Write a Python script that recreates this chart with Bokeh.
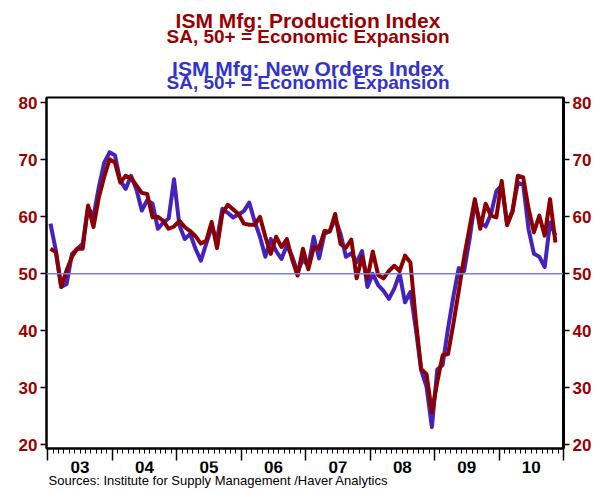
from bokeh.plotting import figure
from bokeh.layouts import column
from bokeh.models import Range1d, LinearAxis, FixedTicker, Span, ColumnDataSource
from bokeh.core.properties import value
from bokeh.embed import file_html
from bokeh.resources import INLINE

# ---------------- data (monthly, Jan 2003 - Nov 2010) ----------------
start_year = 2003
new_orders = [
    58.8, 54.1, 47.7, 48.2, 53.5, 54.4, 55.3, 61.7, 60.0, 65.2, 69.5, 71.3,   # 2003
    70.8, 66.3, 64.9, 67.2, 64.8, 61.1, 62.9, 62.3, 57.9, 59.0, 59.7, 66.6,   # 2004
    58.5, 56.1, 57.0, 54.4, 52.3, 55.3, 58.2, 56.0, 61.4, 60.7, 59.9, 60.4,   # 2005
    61.0, 62.5, 59.2, 56.5, 53.0, 56.1, 54.0, 52.6, 55.0, 53.0, 50.3, 52.6,   # 2006
    51.3, 56.5, 52.7, 57.0, 57.5, 59.7, 57.0, 53.0, 53.6, 52.0, 54.0, 47.7,   # 2007
    50.0, 48.0, 47.0, 45.6, 47.4, 50.0, 45.0, 46.8, 40.4, 33.1, 30.2, 23.1,   # 2008
    33.2, 34.0, 40.4, 46.0, 51.0, 50.5, 56.0, 62.5, 59.0, 58.3, 60.5, 64.5,   # 2009
    65.5, 58.8, 61.0, 66.0, 65.6, 57.8, 53.5, 53.0, 51.2, 59.0, 56.7,         # 2010
]
production = [
    54.4, 53.8, 47.7, 50.6, 53.0, 54.4, 54.4, 62.0, 58.2, 63.4, 67.0, 70.1,   # 2003
    69.5, 66.0, 67.2, 66.8, 65.5, 64.2, 64.0, 59.9, 60.0, 59.3, 57.9, 58.3,   # 2004
    59.3, 58.2, 57.5, 56.6, 55.3, 55.8, 59.1, 54.5, 60.6, 62.1, 61.3, 60.5,   # 2005
    58.8, 58.6, 58.6, 60.0, 56.5, 53.5, 56.5, 54.7, 56.1, 52.5, 49.7, 54.4,   # 2006
    50.8, 54.6, 54.5, 57.5, 57.4, 60.5, 55.2, 54.6, 56.0, 49.2, 53.0, 49.2,   # 2007
    53.9, 49.8, 49.2, 50.5, 51.4, 50.5, 53.2, 52.0, 42.0, 33.3, 32.4, 25.7,   # 2008
    31.0, 35.7, 35.9, 41.2, 47.0, 52.9, 58.0, 63.1, 57.9, 62.3, 60.2, 59.9,   # 2009
    66.3, 58.5, 60.9, 67.2, 66.9, 61.4, 57.3, 60.2, 56.7, 63.1, 55.5,         # 2010
]
years = list(range(2003, 2011))
year_labels = ["03", "04", "05", "06", "07", "08", "09", "10"]
y_ticks = [20, 30, 40, 50, 60, 70, 80]
threshold = 50

title_texts = ["ISM Mfg: Production Index", "SA, 50+ = Economic Expansion",
               "ISM Mfg: New Orders Index", "SA, 50+ = Economic Expansion"]
title_colors = ["#990000", "#990000", "#3333CC", "#3333CC"]
title_sizes = ["21px", "19px", "21px", "19px"]
source_text = "Sources:  Institute for Supply Management /Haver Analytics"

# ---------------- layout constants ----------------
W = 602
TOP_H, MAIN_H, BOT_H = 92, 369, 30
BORDER_L, BORDER_R = 46, 39
FONT = "Liberation Sans"
DARK_RED = "#990000"
title_baselines = [20, 36, 68, 82]          # page pixel rows (anchor)
year_baseline, source_baseline = 466, 480    # page pixel rows (anchor)

x_dates = [start_year + (i + 0.5) / 12 for i in range(len(new_orders))]
src = ColumnDataSource(dict(x=x_dates, no=new_orders, pr=production))

# ---------------- title strip ----------------
t = figure(width=W, height=TOP_H, output_backend="svg", toolbar_location=None, title=None,
           x_range=Range1d(0, W), y_range=Range1d(TOP_H, 0), min_border=0,
           x_axis_type=None, y_axis_type=None)
t.outline_line_color = None
t.xgrid.visible = False
t.ygrid.visible = False
tsrc = ColumnDataSource(dict(x=[(BORDER_L + W - BORDER_R) / 2] * 4, y=title_baselines,
                             text=title_texts, color=title_colors, size=title_sizes))
t.text(x="x", y="y", text="text", source=tsrc, text_color="color", text_font_size="size",
       text_font=value(FONT), text_font_style="bold", text_align="center",
       text_baseline="alphabetic")

# ---------------- main chart ----------------
p = figure(width=W, height=MAIN_H, output_backend="svg", toolbar_location=None, title=None,
           x_range=Range1d(2002.98, 2011.0), y_range=Range1d(19.35, 80.93),
           min_border_left=BORDER_L, min_border_right=BORDER_R, min_border_top=5,
           min_border_bottom=13, x_axis_type=None, y_axis_type=None)
p.outline_line_color = "black"
p.outline_line_width = 2
p.xgrid.visible = False
p.ygrid.visible = False

p.add_layout(Span(location=threshold, dimension="width", line_color="#8080D0", line_width=1.5))
p.line("x", "no", source=src, line_color="#4422BB", line_width=4, line_join="round")
p.line("x", "pr", source=src, line_color="#8B0000", line_width=4, line_join="round")

for side in ("left", "right"):
    ax = LinearAxis(ticker=FixedTicker(ticks=y_ticks))
    ax.axis_line_color = "black"
    ax.axis_line_width = 2 if side == "left" else 3
    ax.major_tick_line_color = "black"
    ax.major_tick_line_width = 1.5
    ax.major_tick_out = 6
    ax.major_tick_in = 0
    ax.minor_tick_line_color = None
    ax.major_label_text_color = DARK_RED
    ax.major_label_text_font = FONT
    ax.major_label_text_font_style = "bold"
    ax.major_label_text_font_size = "17px"
    ax.major_label_standoff = 3
    p.add_layout(ax, side)

year_edges = list(range(2003, 2012))
xa = LinearAxis(ticker=FixedTicker(ticks=year_edges,
                                   minor_ticks=[2003 + i / 12 for i in range(97)]))
xa.axis_line_color = "black"
xa.axis_line_width = 2
xa.major_tick_line_color = "black"
xa.major_tick_line_width = 1.5
xa.major_tick_out = 12
xa.major_tick_in = 0
xa.minor_tick_line_color = "black"
xa.minor_tick_out = 5
xa.minor_tick_in = 0
xa.major_label_overrides = {e: "" for e in year_edges}
xa.major_label_text_font_size = "1px"
xa.major_label_standoff = 0
p.add_layout(xa, "below")

# ---------------- year labels + source strip ----------------
top_of_bottom = TOP_H + MAIN_H
b = figure(width=W, height=BOT_H, output_backend="svg", toolbar_location=None, title=None,
           x_range=p.x_range, y_range=Range1d(top_of_bottom + BOT_H, top_of_bottom),
           min_border_left=BORDER_L, min_border_right=BORDER_R, min_border_top=0,
           min_border_bottom=0, x_axis_type=None, y_axis_type=None)
b.outline_line_color = None
b.xgrid.visible = False
b.ygrid.visible = False
ysrc = ColumnDataSource(dict(x=[y + 0.5 for y in years], y=[year_baseline] * len(years),
                             text=year_labels))
b.text(x="x", y="y", text="text", source=ysrc, text_color="black", text_font_size="17px",
       text_font=value(FONT), text_font_style="bold", text_align="center",
       text_baseline="alphabetic")
b.text(x=[p.x_range.start], y=[source_baseline], text=[source_text], text_color="black",
       text_font_size="13px", text_font=value(FONT), text_align="left",
       text_baseline="alphabetic", x_offset=2)

layout = column(t, p, b, spacing=0)
open("out.html", "w").write(file_html(layout, INLINE))
